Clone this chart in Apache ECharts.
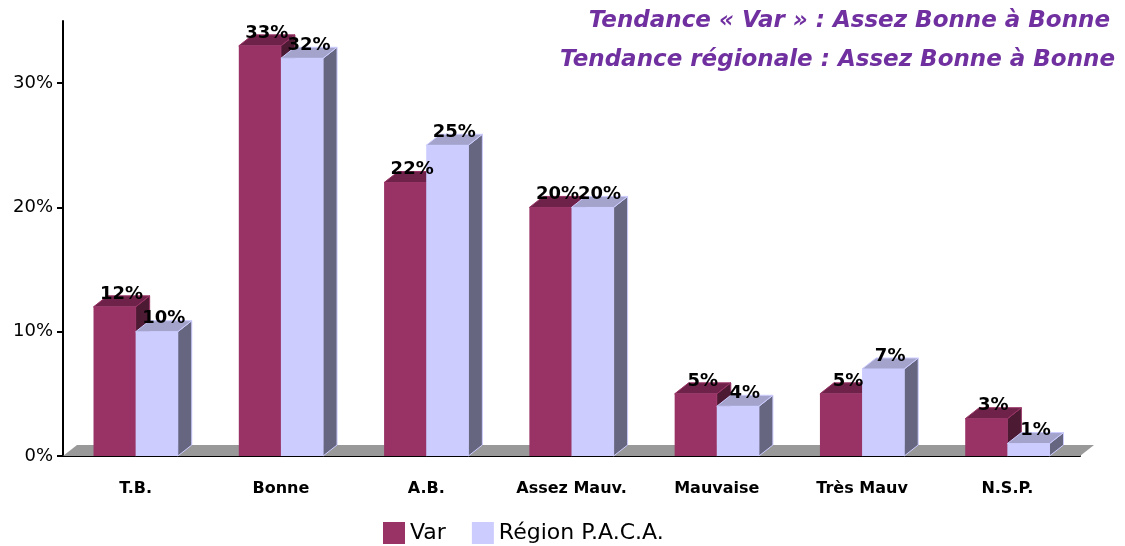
<!DOCTYPE html>
<html>
<head>
  <meta charset="utf-8">
  <title>Tendance Var / Région P.A.C.A.</title>
  <script src="https://cdn.jsdelivr.net/npm/echarts@6.0.0/dist/echarts.min.js"></script>
  <style>
    html, body { margin: 0; padding: 0; background: #fff; }
    #chart { width: 1125px; height: 546px; }
  </style>
</head>
<body>
<div id="chart"></div>
<script type="text/javascript">
// categories + values
var categories = ['T.B.', 'Bonne', 'A.B.', 'Assez Mauv.', 'Mauvaise', 'Très Mauv', 'N.S.P.'];
var varValues = [12, 33, 22, 20, 5, 5, 3];
var regionValues = [10, 32, 25, 20, 4, 7, 1];
var yTicks = [0, 10, 20, 30];
var titleLines = ['Tendance « Var » : Assez Bonne à Bonne', 'Tendance régionale : Assez Bonne à Bonne'];

var FONT = '"DejaVu Sans", "Noto Sans", sans-serif';
// depth of the fake 3D
var DX = 14, DY = -11;

var myChart = echarts.init(document.getElementById('chart'));

// one 3D bar : front + top + side, shifted left (var) or right (region) of the band centre
function bar3d(shift, front, top, side, zBase) {
  return function (params, api) {
    var i = api.value(0), v = api.value(1);
    var base = api.coord([i, 0]);
    var peak = api.coord([i, v]);
    var band = api.size([1, 0])[0];
    var w = band * 0.29;
    var x0 = shift < 0 ? base[0] - w : base[0];
    var x1 = x0 + w;
    var y0 = base[1], y1 = peak[1];
    return {
      type: 'group',
      children: [
        { type: 'polygon', z2: zBase,
          shape: { points: [[x1, y0], [x1 + DX, y0 + DY], [x1 + DX, y1 + DY], [x1, y1]] },
          style: { fill: side, stroke: front, lineWidth: 1 } },
        { type: 'polygon', z2: zBase + 1,
          shape: { points: [[x0, y1], [x0 + DX, y1 + DY], [x1 + DX, y1 + DY], [x1, y1]] },
          style: { fill: top, stroke: front, lineWidth: 1 } },
        { type: 'rect', z2: zBase + 2,
          shape: { x: x0, y: y1, width: w, height: y0 - y1 },
          style: { fill: front } },
        { type: 'text', z2: 50,
          style: { text: v + '%', x: (x0 + x1) / 2 + DX / 2, y: y1 + DY + 7,
                   align: 'center', verticalAlign: 'bottom',
                   font: 'bold 18px ' + FONT, fill: '#000' } }
      ]
    };
  };
}

// gray floor behind the bars
function floor(params, api) {
  var cs = params.coordSys;
  var yb = cs.y + cs.height;
  return {
    type: 'polygon', z2: 0,
    shape: { points: [[cs.x, yb], [cs.x + cs.width, yb], [cs.x + cs.width + DX, yb + DY], [cs.x + DX, yb + DY]] },
    style: { fill: '#999999' }
  };
}

myChart.setOption({
  backgroundColor: '#fff',
  animation: false,
  title: [{
    text: titleLines[0], right: 10, top: 5,
    textStyle: { color: '#7030a0', fontSize: 23, fontWeight: 'bold', fontStyle: 'italic', fontFamily: FONT }
  }, {
    text: titleLines[1], right: 5, top: 44,
    textStyle: { color: '#7030a0', fontSize: 23, fontWeight: 'bold', fontStyle: 'italic', fontFamily: FONT }
  }],
  legend: {
    left: 378, top: 517,
    itemWidth: 22, itemHeight: 22, itemGap: 26,
    icon: 'rect',
    textStyle: { fontSize: 22, color: '#000', fontFamily: FONT },
    data: [
      { name: 'Var', itemStyle: { color: '#993366' } },
      { name: 'Région P.A.C.A.', itemStyle: { color: '#ccccff' } }
    ]
  },
  grid: { left: 63, right: 45, top: 21, bottom: 90 },
  xAxis: {
    type: 'category',
    data: categories,
    axisLine: { lineStyle: { color: '#000', width: 2 } },
    axisTick: { length: 8, lineStyle: { color: '#000', width: 2 } },
    axisLabel: { margin: 25, fontSize: 16, fontWeight: 'bold', color: '#000', fontFamily: FONT }
  },
  yAxis: {
    type: 'value',
    min: 0, max: 35, interval: 10,
    splitLine: { show: false },
    axisLine: { show: true, lineStyle: { color: '#000', width: 2 } },
    axisTick: { show: true, length: 6, customValues: yTicks, lineStyle: { color: '#000', width: 2 } },
    axisLabel: { customValues: yTicks, formatter: '{value}%', margin: 10, fontSize: 18, color: '#000', fontFamily: FONT }
  },
  series: [{
    name: 'floor', type: 'custom', z: 1, silent: true,
    renderItem: floor, data: [[0, 0]]
  }, {
    name: 'Var', type: 'custom', z: 2,
    itemStyle: { color: '#993366' },
    renderItem: bar3d(-1, '#993366', '#6e2249', '#4d1a33', 1),
    encode: { x: 0, y: 1 },
    data: varValues.map(function (v, i) { return [i, v]; })
  }, {
    name: 'Région P.A.C.A.', type: 'custom', z: 2,
    itemStyle: { color: '#ccccff' },
    renderItem: bar3d(1, '#ccccff', '#a3a3cc', '#666680', 10),
    encode: { x: 0, y: 1 },
    data: regionValues.map(function (v, i) { return [i, v]; })
  }]
});
</script>
</body>
</html>
